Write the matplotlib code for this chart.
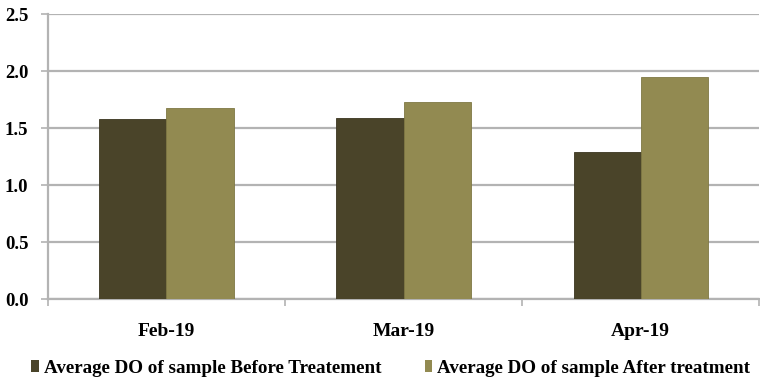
import matplotlib
matplotlib.use("Agg")
import matplotlib.pyplot as plt
import numpy as np
from matplotlib.patches import Patch

months = ["Feb-19", "Mar-19", "Apr-19"]
before_treatment = [1.58, 1.59, 1.29]
after_treatment = [1.68, 1.73, 1.95]
series_names = ["Average DO of sample Before Treatement",
                "Average DO of sample After treatment"]
y_ticks = [0.0, 0.5, 1.0, 1.5, 2.0, 2.5]

dark = "#4a4429"
light = "#928a51"
grid_c = "#b3b3b3"

plt.rcParams["font.family"] = ["Liberation Serif", "DejaVu Serif"]
plt.rcParams["font.weight"] = "bold"

fig = plt.figure(figsize=(7.6, 3.82), dpi=100)
ax = fig.add_axes([0.063, 0.217, 0.936, 0.746])

x = np.arange(len(months))
w = 0.283
ax.bar(x - w / 2, before_treatment, w, color=dark, edgecolor="#3a3520", linewidth=0.6, zorder=3)
ax.bar(x + w / 2, after_treatment, w, color=light, edgecolor="#7f7844", linewidth=0.6, zorder=3)

ax.set_xlim(-0.5, len(months) - 0.5)
ax.set_ylim(0, 2.5)
ax.set_yticks(y_ticks)
ax.set_yticklabels([f"{v:.1f}" for v in y_ticks], fontsize=13.5, fontweight="bold")
ax.yaxis.grid(True, color=grid_c, linewidth=1.6, zorder=0)
ax.set_axisbelow(True)

ax.set_xticks(x)
ax.set_xticklabels(months, fontsize=14, fontweight="bold")
ax.tick_params(axis="x", which="major", length=0, pad=17)
ax.set_xticks(np.arange(len(months) + 1) - 0.5, minor=True)
ax.tick_params(axis="x", which="minor", length=5, width=1.2, color=grid_c, direction="out")
ax.tick_params(axis="y", length=5, width=1.2, color=grid_c, direction="out", pad=9)

for side in ["top", "right"]:
    ax.spines[side].set_visible(False)
ax.spines["left"].set_color(grid_c)
ax.spines["left"].set_linewidth(1.6)
ax.spines["bottom"].set_color(grid_c)
ax.spines["bottom"].set_linewidth(1.6)

handles = [Patch(facecolor=dark), Patch(facecolor=light)]
fig.legend(handles, series_names, loc="center", bbox_to_anchor=(0.514, 0.036),
           ncol=2, frameon=False, handlelength=0.4, handleheight=0.55,
           handletextpad=0.25, columnspacing=2.3, prop={"weight": "bold", "size": 13.7})

fig.savefig("out.png", dpi=100)
